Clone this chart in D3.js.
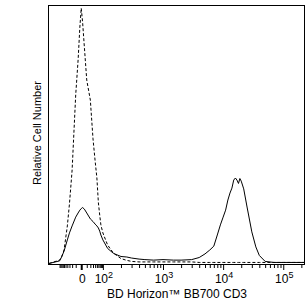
<!DOCTYPE html>
<html>
<head>
<meta charset="utf-8">
<script src="https://cdnjs.cloudflare.com/ajax/libs/d3/7.8.5/d3.min.js"></script>
<style>
  body { margin: 0; background: #fff; }
  text { font-family: "Liberation Sans", Arial, sans-serif; fill: #000; }
</style>
</head>
<body>
<div class="chart"></div>
<script>
// fluorescence bins (intensity) shared by both histograms
const fluor = [-150, -100, -80, -60, -40, -30, -20, -10, -5, -2, 0, 2, 5, 10, 20, 30, 40, 50, 60, 70, 80,
  100, 120, 150, 200, 250, 300, 400, 500, 700, 1000, 1500, 2000, 3000, 4000, 5000, 6000, 7000, 8000, 9000,
  10000, 11000, 12000, 13000, 14000, 15000, 16000, 17000, 18000, 19000, 20000, 22000, 25000, 30000, 35000,
  40000, 50000, 70000, 100000, 150000, 230000];

// stained sample (solid)
const stained = [0.2, 1.2, 2.7, 5.0, 9.3, 12.0, 14.7, 18.1, 19.7, 20.8, 21.4, 21.8, 21.2, 19.7, 17.4, 16.4, 15.4, 14.7, 13.9, 12.7, 11.2,
  9.3, 6.0, 4.1, 2.9, 2.7, 2.3, 1.9, 1.7, 1.5, 1.7, 1.5, 1.5, 1.7, 2.5, 3.9, 5.4, 6.9, 11.2, 15.1,
  18.1, 20.8, 24.7, 27.4, 29.3, 32.4, 33.2, 32.4, 31.1, 33.0, 32.0, 29.0, 22.0, 12.4, 6.6,
  3.3, 1.0, 0.6, 0.6, 0.6, 0.6];

// isotype control (dashed)
const isotype = [0.2, 1.5, 2.7, 5.4, 14.7, 23.2, 36.3, 65.3, 78.8, 91.5, 98.8, 93.4, 83.8, 71.0, 63.3, 48.3, 39.8, 33.2, 23.6, 18.9, 15.1,
  12.0, 7.3, 4.2, 2.1, 1.4, 1.0, 0.8, 0.8, 0.8, 0.8, 0.8, 0.8, 0.8, 0.6, 0.6, 0.6, 0.6, 0.6, 0.6,
  0.6, 0.6, 0.6, 0.6, 0.6, 0.6, 0.6, 0.6, 0.6, 0.6, 0.6, 0.6, 0.6, 0.6, 0.6,
  0.6, 0.6, 0.6, 0.6, 0.6, 0.6];

const majorTicks = [0, 100, 1000, 10000, 100000];
const majorExp = ['', '2', '3', '4', '5'];
const minorTicks = [-100, -90, -80, -70, -60, -50, -40, -30, -20, -10,
  10, 20, 30, 40, 50, 60, 70, 80, 90,
  200, 300, 400, 500, 600, 700, 800, 900,
  2000, 3000, 4000, 5000, 6000, 7000, 8000, 9000,
  20000, 30000, 40000, 50000, 60000, 70000, 80000, 90000, 200000];

// logicle-like display: compressed log near zero, plain decades above 100
function tr(v) {
  const a = Math.abs(v), s = Math.sign(v);
  if (a >= 100) return s * (0.36 + Math.log10(a) - 2);
  return s * 0.36 * Math.log10(1 + 0.07 * a) / Math.log10(8);
}

const plotL = 49, plotT = 5, plotR = 305, plotB = 264;

const svg = d3.select('.chart').append('svg')
  .attr('width', 308)
  .attr('height', 306);

const x = d3.scaleLinear()
  .domain([tr(-150), tr(230000)])
  .range([plotL, plotR]);

const y = d3.scaleLinear()
  .domain([0, 100])
  .range([plotB, plotT]);

// frame
svg.append('rect')
  .attr('x', plotL - 0.5)
  .attr('y', plotT + 0.5)
  .attr('width', plotR - plotL)
  .attr('height', plotB - plotT)
  .attr('fill', 'none')
  .attr('stroke', 'black');

// minor ticks
const gMinor = svg.append('g')
  .attr('transform', `translate(0,${plotB})`)
  .call(d3.axisBottom(x).tickValues(minorTicks.map(tr)).tickSize(4).tickFormat(''));
gMinor.select('.domain').remove();

// major ticks
const gMajor = svg.append('g')
  .attr('transform', `translate(0,${plotB})`)
  .call(d3.axisBottom(x).tickValues(majorTicks.map(tr)).tickSize(6).tickFormat(''));
gMajor.select('.domain').remove();
gMajor.selectAll('.tick line').filter(d => d === 0).attr('stroke-width', 2);

// tick labels
svg.selectAll('.xlab')
  .data(majorTicks)
  .join('text')
  .attr('class', 'xlab')
  .attr('x', d => x(tr(d)) + 1)
  .attr('y', 283)
  .attr('text-anchor', 'middle')
  .attr('font-size', 12)
  .each(function (d, i) {
    const t = d3.select(this);
    if (d === 0) { t.text('0'); return; }
    t.append('tspan').text('10');
    t.append('tspan').attr('dy', -5).attr('font-size', 9).text(majorExp[i]);
  });

svg.append('text')
  .text('BD Horizon™ BB700 CD3')
  .attr('x', (plotL + plotR) / 2)
  .attr('y', 298)
  .attr('text-anchor', 'middle')
  .attr('font-size', 12);

svg.append('text')
  .text('Relative Cell Number')
  .attr('transform', 'translate(41,133) rotate(-90)')
  .attr('text-anchor', 'middle')
  .attr('font-size', 11);

// histograms
const line = d3.line()
  .x((d, i) => x(tr(fluor[i])))
  .y(d => y(d));

svg.append('path')
  .datum(isotype)
  .attr('d', line)
  .attr('fill', 'none')
  .attr('stroke', 'black')
  .attr('stroke-dasharray', '3,2');

svg.append('path')
  .datum(stained)
  .attr('d', line)
  .attr('fill', 'none')
  .attr('stroke', 'black');
</script>
</body>
</html>
